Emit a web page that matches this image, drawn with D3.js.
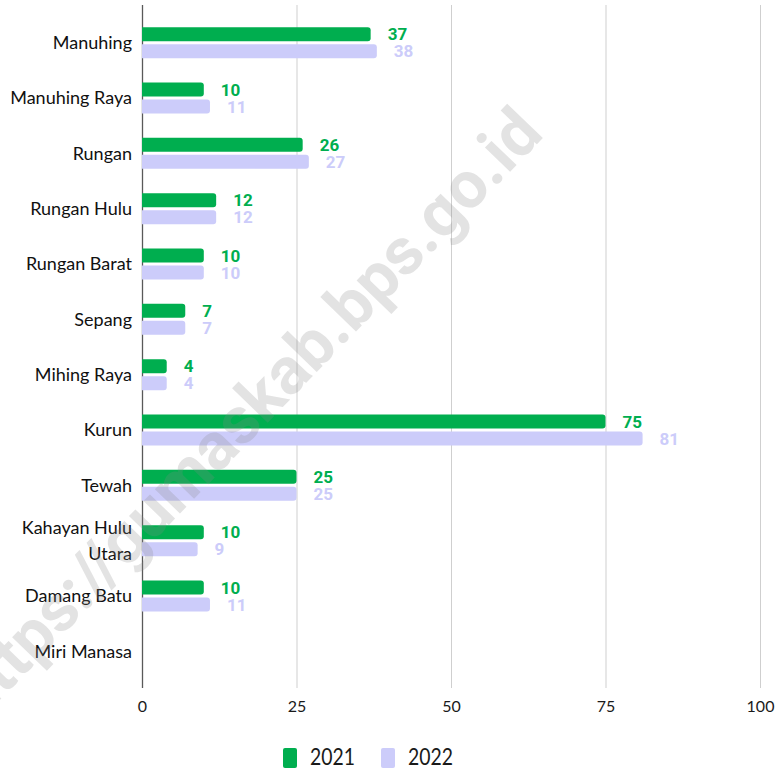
<!DOCTYPE html>
<html>
<head>
<meta charset="utf-8">
<script src="https://cdn.jsdelivr.net/npm/d3@7"></script>
<style>
  body { margin: 0; background: #fff; }
  svg { display: block; }
</style>
</head>
<body>
<div id="chart"></div>
<script>
// districts, top to bottom
var districts = ['Manuhing', 'Manuhing Raya', 'Rungan', 'Rungan Hulu', 'Rungan Barat', 'Sepang',
    'Mihing Raya', 'Kurun', 'Tewah', 'Kahayan Hulu Utara', 'Damang Batu', 'Miri Manasa'];

// series
var years = ['2021', '2022'];
var values2021 = [37, 10, 26, 12, 10, 7, 4, 75, 25, 10, 10, null];
var values2022 = [38, 11, 27, 12, 10, 7, 4, 81, 25, 9, 11, null];

// x ticks
var xTicks = [0, 25, 50, 75, 100];

var colors = { '2021': '#00ae4f', '2022': '#ccccfa' };

var svgWidth = 778;
var svgHeight = 769;

var svg = d3.select('#chart')
    .append('svg')
    .attr('width', svgWidth)
    .attr('height', svgHeight);

// scales
var xScale = d3.scaleLinear()
    .domain([0, 100])
    .range([142, 760]);

var yScale = d3.scaleBand()
    .domain(districts)
    .range([15, 679]);

var subScale = d3.scaleBand()
    .domain(years)
    .range([-15.5, 15.5])
    .paddingInner(0.176);

var gridTop = 5;
var gridBottom = 688;

// grid lines + x axis labels
var xAxis = d3.axisBottom(xScale)
    .tickValues(xTicks)
    .tickSize(-(gridBottom - gridTop))
    .tickPadding(13);

var axisG = svg.append('g')
    .attr('transform', `translate(0, ${gridBottom})`)
    .call(xAxis);

axisG.select('.domain').remove();
axisG.selectAll('.tick line')
    .attr('stroke', d => d === 0 ? '#595959' : '#cfcfcf')
    .attr('stroke-width', d => d === 0 ? 1.3 : 1);
axisG.selectAll('.tick text')
    .attr('fill', '#1a1a1a')
    .style('font-family', 'Lato')
    .style('font-size', '16px');

// category labels
var labelG = svg.append('g');
districts.forEach(name => {
    var cy = yScale(name) + yScale.bandwidth() / 2;
    var t = labelG.append('text')
        .attr('x', 132)
        .attr('text-anchor', 'end')
        .attr('fill', '#111')
        .style('font-family', 'Lato')
        .style('font-size', '18px');
    if (name === 'Kahayan Hulu Utara') {
        t.append('tspan').attr('x', 132).attr('y', cy - 13).attr('dy', '0.35em').text('Kahayan Hulu');
        t.append('tspan').attr('x', 132).attr('y', cy + 13).attr('dy', '0.35em').text('Utara');
    } else {
        t.attr('y', cy).attr('dy', '0.35em').text(name);
    }
});

// bar path with rounded right end
function barPath(x0, x1, y, h, r) {
    r = Math.min(r, (x1 - x0) / 2, h / 2);
    return `M${x0},${y}H${x1 - r}Q${x1},${y} ${x1},${y + r}V${y + h - r}Q${x1},${y + h} ${x1 - r},${y + h}H${x0}Z`;
}

var rows = districts.map((name, i) => ({
    name: name,
    series: [
        { year: '2021', value: values2021[i] },
        { year: '2022', value: values2022[i] }
    ]
}));

var barG = svg.append('g');
rows.forEach(row => {
    var cy = yScale(row.name) + yScale.bandwidth() / 2;
    row.series.filter(s => s.value != null).forEach(s => {
        var y = cy + subScale(s.year);
        barG.append('path')
            .attr('d', barPath(xScale(0), xScale(s.value), y, subScale.bandwidth(), 3))
            .attr('fill', colors[s.year]);
        barG.append('text')
            .attr('x', xScale(s.value) + 17)
            .attr('y', y + subScale.bandwidth() / 2)
            .attr('dy', '0.36em')
            .attr('fill', colors[s.year])
            .style('font-family', 'Roboto')
            .style('font-weight', 'bold')
            .style('font-size', '17px')
            .text(s.value);
    });
});

// legend
var legend = svg.append('g');
var legendX = [283, 381];
years.forEach((yr, i) => {
    legend.append('rect')
        .attr('x', legendX[i])
        .attr('y', 748)
        .attr('width', 14)
        .attr('height', 20)
        .attr('rx', 2)
        .attr('fill', colors[yr]);
    legend.append('text')
        .attr('x', legendX[i] + 27)
        .attr('y', 757)
        .attr('dy', '0.36em')
        .attr('fill', '#1a1a1a')
        .attr('textLength', 45)
        .attr('lengthAdjust', 'spacingAndGlyphs')
        .style('font-family', 'Lato')
        .style('font-size', '23px')
        .text(yr);
});

// watermark
svg.append('text')
    .attr('transform', 'translate(245, 413) rotate(-46)')
    .attr('text-anchor', 'middle')
    .attr('dy', '0.35em')
    .attr('fill', '#888')
    .attr('opacity', 0.23)
    .style('font-family', 'Roboto')
    .style('font-weight', 'bold')
    .style('font-size', '66px')
    .text('https://gumaskab.bps.go.id');
</script>
</body>
</html>
